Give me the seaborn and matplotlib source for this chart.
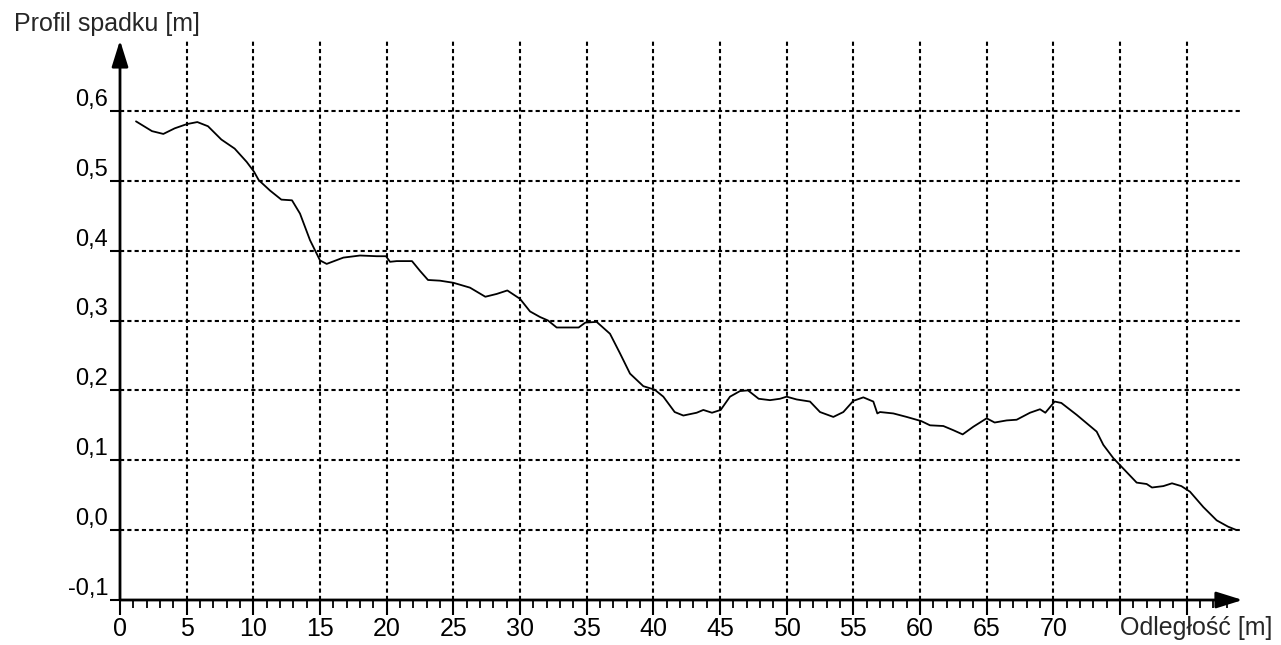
import matplotlib
matplotlib.use("Agg")
import matplotlib.pyplot as plt
import seaborn as sns
import pandas as pd

# profile
distance = [1.2, 2.4, 3.25, 4.1, 5.0, 5.8, 6.6, 7.6, 8.6, 9.5,
            10.05, 10.4, 11.25, 12.1, 12.9, 13.5, 14.25, 15.0, 15.5, 16.75,
            18.0, 19.25, 19.95, 20.25, 20.75, 21.9, 22.5, 23.1, 24.0, 25.0,
            26.25, 27.4, 28.25, 29.05, 30.0, 30.75, 31.5, 32.1, 32.75, 34.4,
            34.9, 35.75, 36.75, 37.5, 38.25, 39.25, 40.1, 40.75, 41.6, 42.25,
            43.25, 43.75, 44.4, 45.05, 45.75, 46.5, 47.1, 47.9, 48.75, 49.5,
            50.0, 50.75, 51.75, 52.5, 53.5, 54.25, 55.0, 55.75, 56.5, 56.8,
            57.0, 58.0, 59.0, 60.1, 60.75, 61.75, 62.5, 63.2, 64.0, 65.0,
            65.6, 66.5, 67.25, 68.25, 69.0, 69.4, 70.1, 70.6, 71.75, 73.25,
            73.75, 74.5, 75.25, 76.25, 77.0, 77.4, 78.25, 78.9, 79.6, 80.25,
            81.25, 82.25, 83.1, 83.75]
height = [0.585, 0.571, 0.567, 0.575, 0.581, 0.584, 0.578, 0.559, 0.546, 0.527,
          0.513, 0.501, 0.486, 0.473, 0.472, 0.453, 0.415, 0.386, 0.381, 0.390,
          0.393, 0.392, 0.392, 0.384, 0.385, 0.385, 0.371, 0.358, 0.357, 0.354,
          0.347, 0.334, 0.338, 0.343, 0.331, 0.313, 0.305, 0.300, 0.290, 0.290,
          0.297, 0.298, 0.281, 0.253, 0.224, 0.206, 0.201, 0.191, 0.169, 0.164,
          0.168, 0.172, 0.168, 0.172, 0.191, 0.199, 0.200, 0.188, 0.186, 0.188,
          0.191, 0.187, 0.184, 0.169, 0.162, 0.169, 0.185, 0.190, 0.184, 0.167,
          0.169, 0.167, 0.162, 0.156, 0.150, 0.149, 0.143, 0.137, 0.148, 0.160,
          0.154, 0.157, 0.158, 0.168, 0.173, 0.168, 0.184, 0.182, 0.165, 0.141,
          0.122, 0.103, 0.088, 0.068, 0.066, 0.061, 0.063, 0.067, 0.063, 0.055,
          0.033, 0.014, 0.005, 0.0]

x_ticks = [0, 5, 10, 15, 20, 25, 30, 35, 40, 45, 50, 55, 60, 65, 70, 75, 80]
x_tick_labels = ["0", "5", "10", "15", "20", "25", "30", "35", "40", "45",
                 "50", "55", "60", "65", "70", "", ""]
y_ticks = [-0.1, 0.0, 0.1, 0.2, 0.3, 0.4, 0.5, 0.6]
y_tick_labels = ["-0,1", "0,0", "0,1", "0,2", "0,3", "0,4", "0,5", "0,6"]

sns.set_style("white")
plt.rcParams['font.family'] = ['Liberation Sans', 'DejaVu Sans']

df = pd.DataFrame({"x": distance, "y": height})

fig = plt.figure(figsize=(12.81, 6.45), dpi=100)
ax = fig.add_axes([120 / 1281, 45 / 645, 1120 / 1281, 559 / 645])

sns.lineplot(data=df, x="x", y="y", color="black", linewidth=1.3, ax=ax)

ax.set_xlim(0, 84)
ax.set_ylim(-0.1, 0.7)
for s in ax.spines.values():
    s.set_visible(False)

ax.set_xticks(x_ticks)
ax.set_xticklabels(x_tick_labels, fontsize=18)
ax.set_xticks(range(0, 84), minor=True)
ax.set_yticks(y_ticks)
ax.set_yticklabels(y_tick_labels, fontsize=17)
plt.setp(ax.get_yticklabels(), va="bottom")
ax.tick_params(which="both", bottom=True, left=True, colors="black")
ax.tick_params(axis="x", which="major", direction="out", length=11, width=1.5, pad=1)
ax.tick_params(axis="x", which="minor", direction="out", length=6, width=1.3)
ax.tick_params(axis="y", which="major", direction="out", length=7.5, width=1.5, pad=1)
ax.set_xlabel("")
ax.set_ylabel("")

# dotted grid, skipping the axis lines themselves
ax.grid(False)
for xv in x_ticks[1:]:
    ax.axvline(xv, color="black", linewidth=1.5, linestyle=(0, (2, 1.5)), zorder=0)
for yv in y_ticks[1:]:
    ax.axhline(yv, color="black", linewidth=1.5, linestyle=(0, (2, 1.5)), zorder=0)

arrow = dict(arrowstyle="-|>,head_length=0.8,head_width=0.25", color="black",
             lw=2, mutation_scale=20, shrinkA=0, shrinkB=0)
ax.annotate("", xy=(0, 0.701), xytext=(0, -0.1), arrowprops=arrow, annotation_clip=False)
ax.annotate("", xy=(84.2, -0.1), xytext=(0, -0.1), arrowprops=arrow, annotation_clip=False)

fig.text(14 / 1281, 1 - 31 / 645, "Profil spadku [m]", fontsize=18, va="baseline", ha="left")
fig.text(1272 / 1281, 1 - 616 / 645, "Odległość [m]", fontsize=18, va="top", ha="right")

fig.savefig("out.png", dpi=100, facecolor="white")
